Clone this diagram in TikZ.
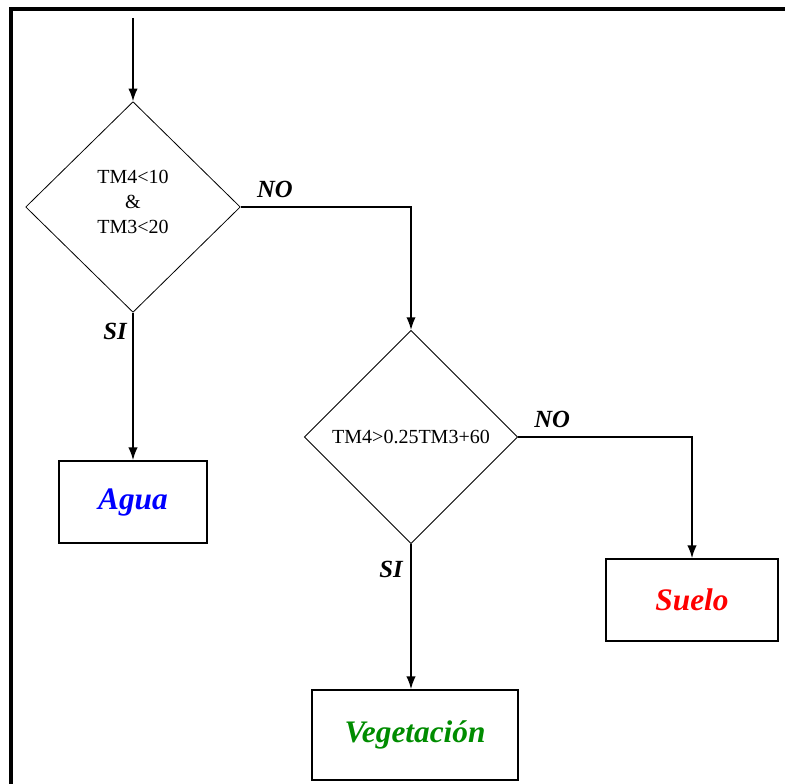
\documentclass[tikz,border=0pt]{standalone}
\usepackage{fontspec}
\setmainfont{Liberation Serif}
\usetikzlibrary{shapes.geometric,arrows.meta,positioning}
\definecolor{verde}{RGB}{0,140,0}

\begin{document}
\begin{tikzpicture}[x=0.75pt,y=-0.75pt,
cond/.style={diamond,draw,line width=0.6pt,inner sep=0pt,align=center,
font=\fontsize{15}{19}\selectfont},
clase/.style={rectangle,draw,line width=1.3pt,
font=\fontsize{23.5}{28}\selectfont\bfseries\itshape},
resp/.style={inner sep=0pt,font=\fontsize{18.5}{22}\selectfont\bfseries\itshape},
flecha/.style={line width=1.1pt,-{Latex[length=9.5pt,width=7pt]}}]
\useasboundingbox (0,0) rectangle (785,784);
\draw[line width=2.4pt] (11,784) -- (11,9) -- (785,9);
\coordinate (ini) at (133,18);
% decisiones
\node[cond,minimum width=161pt,minimum height=158pt] (c1) at (133,207)
{TM4<10\\\&\\TM3<20\\[-11.5pt]};
\node[cond,minimum width=160pt,minimum height=160pt] (c2) at (411,437)
{TM4>0.25TM3+60};
% clases
\node[clase,text=blue,minimum width=111pt,minimum height=61.5pt] (agua) at (133,502) {Agua};
\node[clase,text=red,minimum width=129pt,minimum height=61.5pt] (suelo) at (692,600) {Suelo};
\node[clase,text=verde,minimum width=154pt,minimum height=67.5pt] (veg) at (415,735) {Vegetación};
% respuestas
\node[resp,above right=6.5pt and 12pt of c1.east] (no1) {NO};
\node[resp,below left=8pt and 4.5pt of c1.south] (si1) {SI};
\node[resp,above right=6.5pt and 12pt of c2.east] (no2) {NO};
\node[resp,below left=12.5pt and 6pt of c2.south] (si2) {SI};
\draw[flecha] (ini) -- (c1);
\draw[flecha] (c1.south) -- (agua);
\draw[flecha] (c1.east) -| (c2.north);
\draw[flecha] (c2.east) -| (suelo.north);
\draw[flecha] (c2.south) -- (c2.south |- veg.north);
\end{tikzpicture}
\end{document}
